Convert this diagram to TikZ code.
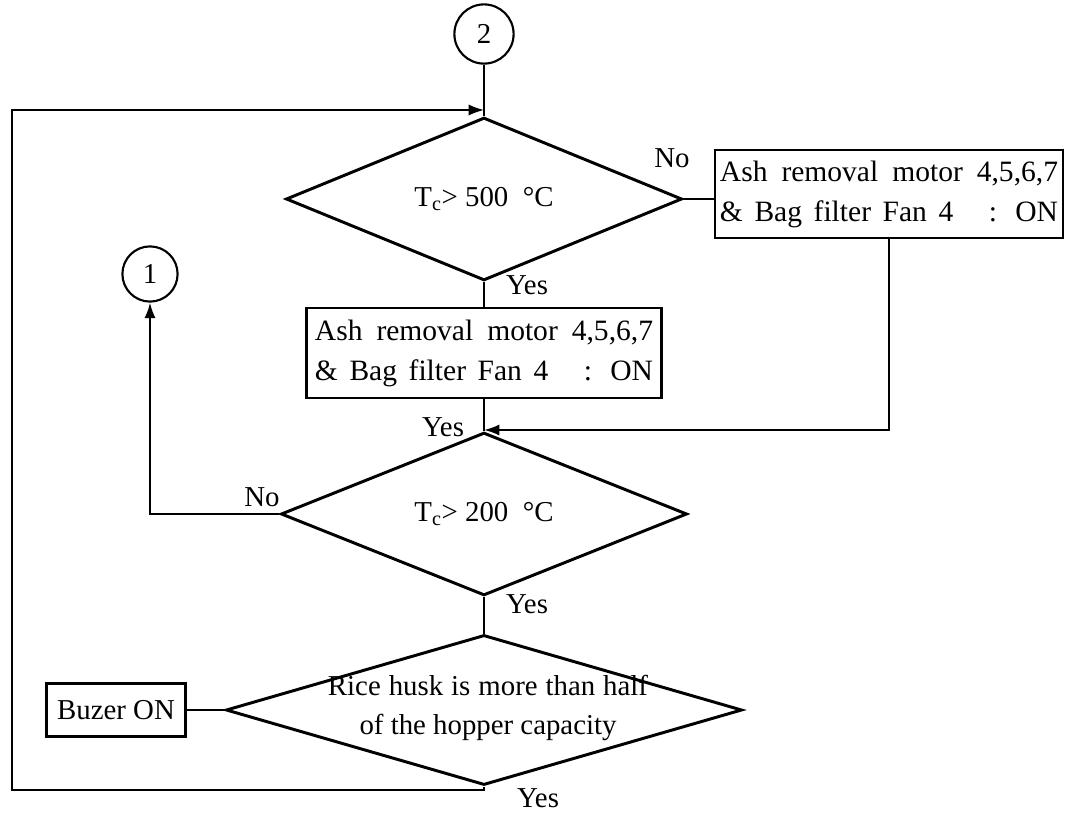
\documentclass[tikz,border=0pt]{standalone}
\usepackage{fontspec}
\setmainfont{Liberation Serif}
\usetikzlibrary{shapes.geometric, arrows.meta, positioning}

\newcommand{\ashtext}{%
  \makebox[8.45cm][s]{Ash removal motor 4,5,6,7}\\
  \makebox[8.45cm][s]{\& Bag filter Fan 4\hspace{0.6cm} : ON}}

\begin{document}
\begin{tikzpicture}[x=0.025cm, y=-0.025cm,
    every node/.style={font=\fontsize{20.5}{28}\selectfont},
    decision/.style={diamond, draw, line width=2.1pt, inner sep=0pt},
    actbox/.style={rectangle, draw, line width=1.6pt, inner sep=0pt, align=center, font=\fontsize{21}{28.5}\selectfont},
    conn/.style={circle, draw, line width=1.5pt, minimum size=1.48cm, inner sep=0pt},
    flow/.style={line width=1.5pt},
    arr/.style={flow, -{Latex[length=11pt,width=8pt]}},
    lbl/.style={inner sep=0pt}]
    \useasboundingbox (0,0) rectangle (1066,814);
    % blocks
    \node[conn] (c2) at (484,34) {2};
    \node[decision, minimum width=9.9cm, minimum height=3.45cm] (d1) at (484,199) {T\textsubscript{c}> 500\ \ \textdegree C};
    \node[actbox, minimum width=8.7cm, minimum height=2.2cm] (bA) at (889,194) {\ashtext};
    \node[actbox, minimum width=8.875cm, minimum height=2.25cm] (bB) at (484,353) {\ashtext};
    \node[decision, minimum width=10.15cm, minimum height=2.95cm] (d2) at (484,514) {T\textsubscript{c}> 200\ \ \textdegree C};
    \node[conn, minimum size=1.38cm] (c1) at (150,274) {1};
    \node[decision, minimum width=12.9cm, minimum height=3.75cm] (d3) at (484,710) {};
    \node[align=center] (d3t) at (488,708) {\makebox[8cm][s]{Rice husk is more than half}\\of the hopper capacity};
    \node[actbox, minimum width=3.475cm, minimum height=1.325cm, font=\fontsize{20.5}{28}\selectfont] (bz) at (116,710) {Buzer ON};
    % connectors
    \coordinate (ent) at (484,110);
    \coordinate (mrg) at (484,430);
    \coordinate (lb) at (12,790);
    \draw[flow] (c2) -- (d1.north);
    \draw[flow] (d1.south) -- (bB.north);
    \draw[flow] (d1.east) -- (d1.east -| bA.west);
    \draw[flow] (bB.south) -- (d2.north);
    \draw[arr] (bA.south) |- (mrg);
    \draw[arr] (d2.west) -| (c1.south);
    \draw[flow] (d2.south) -- (d3.north);
    \draw[flow] (bz.east) -- (d3.west);
    \draw[arr, line width=1.2pt] (d3.south) |- (lb) |- (ent);
    % labels
    \node[lbl] (no1) at (672,158) {No};
    \node[lbl] (yes1) at (527,285) {Yes};
    \node[lbl] (yes2) at (443,427) {Yes};
    \node[lbl] (no2) at (262,497) {No};
    \node[lbl] (yes3) at (527,604) {Yes};
    \node[lbl] (yes4) at (538,798) {Yes};
\end{tikzpicture}
\end{document}
